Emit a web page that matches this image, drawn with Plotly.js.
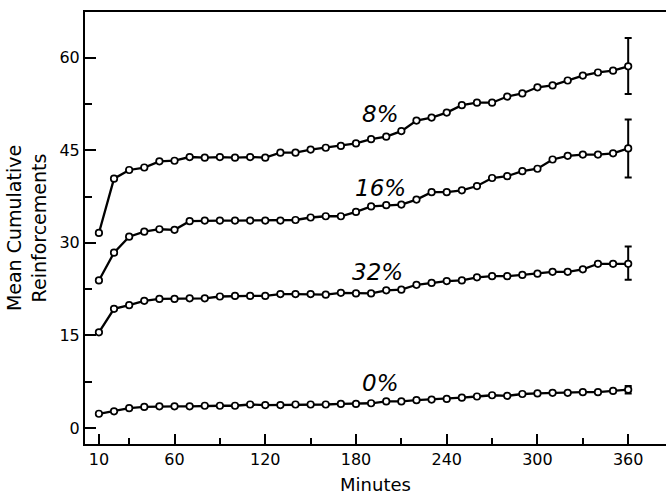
<!DOCTYPE html>
<html>
<head>
<meta charset="utf-8">
<script src="https://cdn.plot.ly/plotly-3.0.1.min.js"></script>
<style>html,body{margin:0;padding:0;background:#fff;}#chart{width:666px;height:495px;}</style>
</head>
<body>
<div id="chart"></div>
<script>
const minutes = [10,20,30,40,50,60,70,80,90,100,110,120,130,140,150,160,170,180,190,200,210,220,230,240,250,260,270,280,290,300,310,320,330,340,350,360];

const pct8  = [31.6,40.4,41.8,42.2,43.2,43.3,43.9,43.8,43.9,43.8,43.9,43.8,44.6,44.6,45.1,45.4,45.7,46.1,46.8,47.2,48.1,49.8,50.3,51.1,52.3,52.7,52.7,53.7,54.2,55.2,55.5,56.3,57.1,57.6,57.9,58.6];
const pct16 = [23.9,28.4,31.0,31.8,32.2,32.1,33.5,33.6,33.6,33.6,33.6,33.6,33.6,33.7,34.1,34.3,34.3,35.0,35.9,36.1,36.2,37.0,38.2,38.2,38.5,39.2,40.5,40.8,41.6,42.0,43.5,44.1,44.3,44.3,44.5,45.3];
const pct32 = [15.5,19.3,19.9,20.6,20.9,20.9,21.0,21.0,21.3,21.4,21.4,21.4,21.7,21.7,21.7,21.6,21.9,21.8,21.8,22.3,22.4,23.2,23.5,23.8,23.9,24.4,24.6,24.6,24.8,25.0,25.3,25.3,25.7,26.6,26.6,26.6];
const pct0  = [2.3,2.7,3.2,3.4,3.5,3.5,3.5,3.6,3.6,3.6,3.8,3.7,3.7,3.8,3.8,3.8,3.9,3.9,4.0,4.3,4.3,4.5,4.6,4.7,4.9,5.1,5.3,5.2,5.5,5.6,5.7,5.7,5.8,5.8,6.0,6.2];

// error bar at the final (360 min) point only
const errPlus  = {p8: 4.6, p16: 4.7, p32: 2.8, p0: 0.6};
const errMinus = {p8: 4.5, p16: 4.7, p32: 2.6, p0: 0.6};

const seriesLabels = ["8%", "16%", "32%", "0%"];
const labelX = [196, 196, 194, 196];
const labelY = [50.8, 38.9, 25.3, 7.3];

const xTickVals = [10,60,120,180,240,300,360];
const yTickVals = [0,15,30,45,60];

function lastOnly(v){ return minutes.map((m,i)=> i===minutes.length-1 ? v : null); }

function mk(y, key){
  return {
    x: minutes, y: y, type: 'scatter', mode: 'lines+markers',
    line: {color: '#000', width: 2.3},
    marker: {symbol: 'circle', size: 6.5, color: '#fff', line: {color: '#000', width: 1.7}},
    error_y: {type: 'data', symmetric: false, array: lastOnly(errPlus[key]), arrayminus: lastOnly(errMinus[key]),
              color: '#000', thickness: 2, width: 3.5},
    showlegend: false, hoverinfo: 'skip'
  };
}

const data = [mk(pct8,'p8'), mk(pct16,'p16'), mk(pct32,'p32'), mk(pct0,'p0')];

const fnt = {family: 'DejaVu Sans, sans-serif', color: '#000', size: 16};

const annotations = seriesLabels.map((t,i)=>({
  x: labelX[i], y: labelY[i], xref: 'x', yref: 'y', text: '<i>' + t + '</i>', showarrow: false,
  font: {family: 'DejaVu Sans, sans-serif', size: 23, color: '#000'}, xanchor: 'center', yanchor: 'middle'
}));

const layout = {
  width: 666, height: 495,
  margin: {l: 85, r: 0, t: 12, b: 51},
  paper_bgcolor: '#fff', plot_bgcolor: '#fff',
  font: fnt,
  showlegend: false,
  xaxis: {
    range: [0.8, 385], tickmode: 'array', tickvals: xTickVals, ticktext: xTickVals.map(String),
    ticks: 'inside', ticklen: 10, tickwidth: 2, tickcolor: '#000',
    minor: {tick0: 30, dtick: 60, ticks: 'inside', ticklen: 6, tickwidth: 2, tickcolor: '#000'},
    showline: true, linecolor: '#000', linewidth: 2, mirror: true,
    showgrid: false, zeroline: false, tickfont: fnt,
    title: {text: 'Minutes', font: {family: 'DejaVu Sans, sans-serif', size: 18, color: '#000'}, standoff: 14}
  },
  yaxis: {
    range: [-2.6, 67.4], tickmode: 'array', tickvals: yTickVals, ticktext: yTickVals.map(String),
    ticks: 'inside', ticklen: 11, tickwidth: 2, tickcolor: '#000',
    minor: {tick0: 7.5, dtick: 15, ticks: 'inside', ticklen: 7, tickwidth: 2, tickcolor: '#000'},
    showline: true, linecolor: '#000', linewidth: 2,
    showgrid: false, zeroline: false, tickfont: fnt,
    title: {text: 'Mean Cumulative<br>Reinforcements', font: {family: 'DejaVu Sans, sans-serif', size: 19, color: '#000'}, standoff: 8}
  },
  annotations: annotations
};

Plotly.newPlot('chart', data, layout, {staticPlot: true, displayModeBar: false});
</script>
</body>
</html>
